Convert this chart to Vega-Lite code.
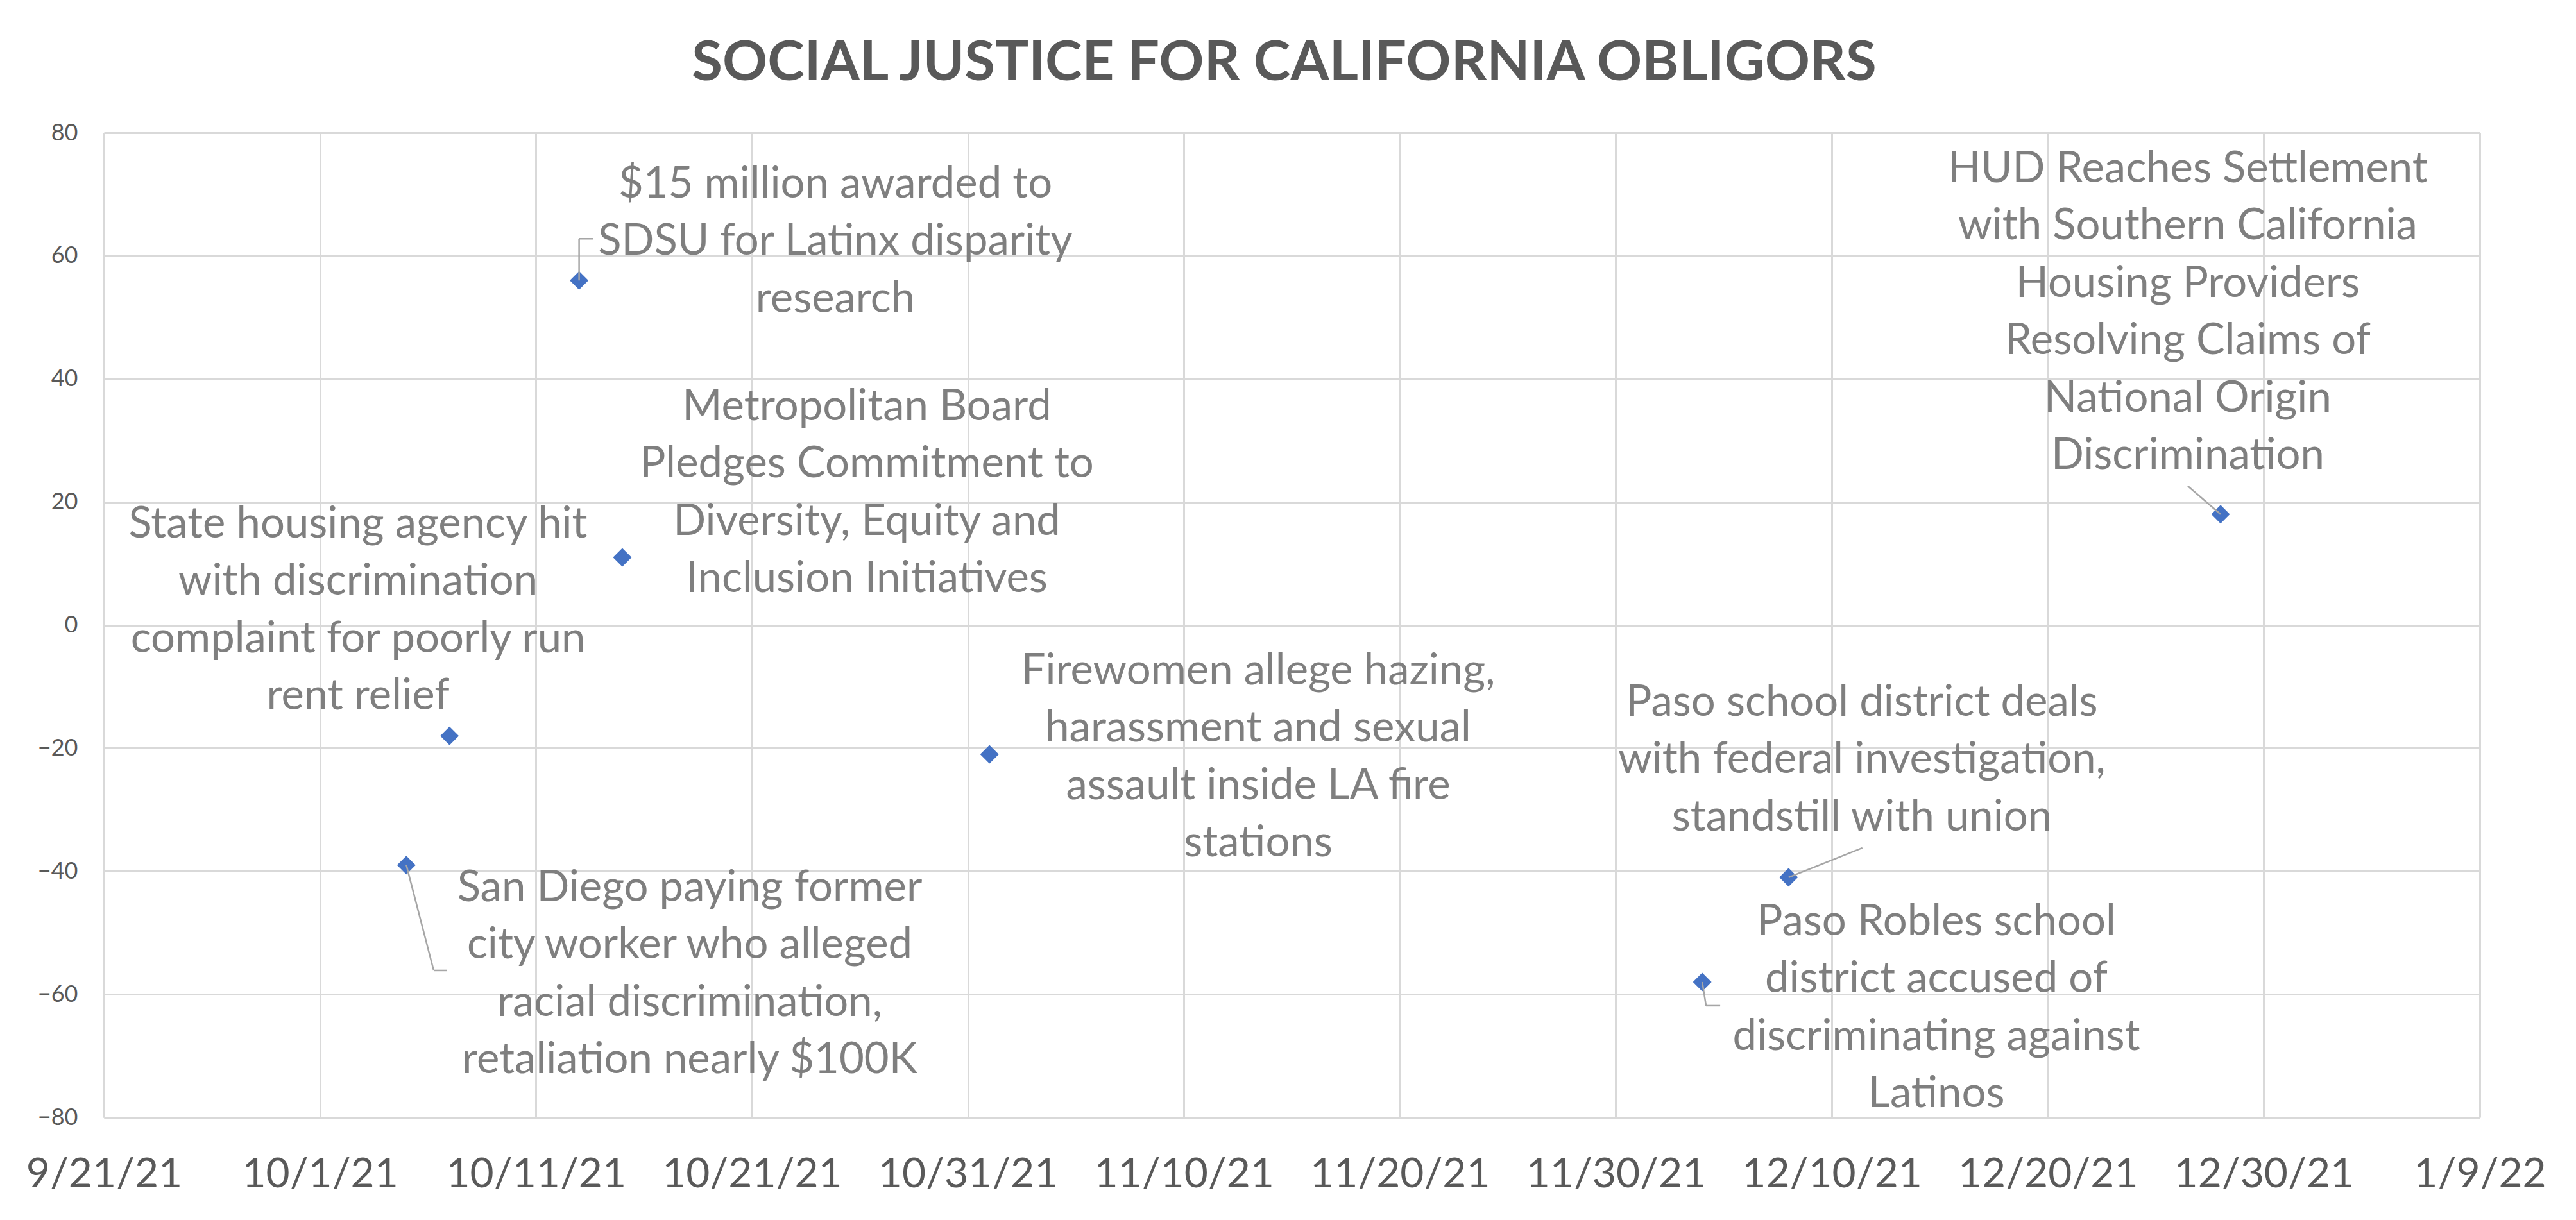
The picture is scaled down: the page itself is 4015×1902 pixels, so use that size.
{
  "$schema": "https://vega.github.io/schema/vega-lite/v6.json",
  "autosize": "none",
  "width": 3703,
  "height": 1535,
  "padding": {"left": 162, "top": 207, "right": 150, "bottom": 160},
  "background": "white",
  "title": {
    "text": "SOCIAL JUSTICE FOR CALIFORNIA OBLIGORS",
    "font": "Lato",
    "fontWeight": "bold",
    "fontSize": 87,
    "color": "#595959",
    "anchor": "middle",
    "baseline": "alphabetic",
    "offset": -23,
    "dx": -12
  },
  "data": {
    "values": [
      {"id": 1, "date": "2021-10-05T00:00", "value": -39, "label": ["San Diego paying former", "city worker who alleged", "racial discrimination,", "retaliation nearly $100K"]},
      {"id": 2, "date": "2021-10-07T00:00", "value": -18, "label": ["State housing agency hit", "with discrimination", "complaint for poorly run", "rent relief"]},
      {"id": 3, "date": "2021-10-13T00:00", "value": 56, "label": ["$15 million awarded to", "SDSU for Latinx disparity", "research"]},
      {"id": 4, "date": "2021-10-15T00:00", "value": 11, "label": ["Metropolitan Board", "Pledges Commitment to", "Diversity, Equity and", "Inclusion Initiatives"]},
      {"id": 5, "date": "2021-11-01T00:00", "value": -21, "label": ["Firewomen allege hazing,", "harassment and sexual", "assault inside LA fire", "stations"]},
      {"id": 6, "date": "2021-12-04T00:00", "value": -58, "label": ["Paso Robles school", "district accused of", "discriminating against", "Latinos"]},
      {"id": 7, "date": "2021-12-08T00:00", "value": -41, "label": ["Paso school district deals", "with federal investigation,", "standstill with union"]},
      {"id": 8, "date": "2021-12-28T00:00", "value": 18, "label": ["HUD Reaches Settlement", "with Southern California", "Housing Providers", "Resolving Claims of", "National Origin", "Discrimination"]}
    ]
  },
  "encoding": {
    "x": {
      "field": "date",
      "type": "temporal",
      "scale": {"domain": [{"year": 2021, "month": 9, "date": 21}, {"year": 2022, "month": 1, "date": 9}], "nice": false},
      "axis": {
        "title": null,
        "values": [
          {"year": 2021, "month": 9, "date": 21},
          {"year": 2021, "month": 10, "date": 1},
          {"year": 2021, "month": 10, "date": 11},
          {"year": 2021, "month": 10, "date": 21},
          {"year": 2021, "month": 10, "date": 31},
          {"year": 2021, "month": 11, "date": 10},
          {"year": 2021, "month": 11, "date": 20},
          {"year": 2021, "month": 11, "date": 30},
          {"year": 2021, "month": 12, "date": 10},
          {"year": 2021, "month": 12, "date": 20},
          {"year": 2021, "month": 12, "date": 30},
          {"year": 2022, "month": 1, "date": 9}
        ],
        "format": "%-m/%-d/%y",
        "labelFont": "Lato",
        "labelFontSize": 64,
        "labelColor": "#595959",
        "labelPadding": 57,
        "labelLimit": 1000,
        "labelOverlap": false,
        "labelFlush": false,
        "labelBaseline": "top",
        "ticks": false,
        "tickSize": 0,
        "domainColor": "#d9d9d9",
        "domainWidth": 3,
        "grid": true,
        "gridColor": "#d9d9d9",
        "gridWidth": 3
      }
    },
    "y": {
      "field": "value",
      "type": "quantitative",
      "scale": {"domain": [-80, 80], "nice": false, "zero": false},
      "axis": {
        "title": null,
        "values": [-80, -60, -40, -20, 0, 20, 40, 60, 80],
        "labelFont": "Lato",
        "labelFontSize": 36,
        "labelColor": "#595959",
        "labelPadding": 41,
        "labelLimit": 1000,
        "ticks": false,
        "tickSize": 0,
        "domainColor": "#d9d9d9",
        "domainWidth": 3,
        "grid": true,
        "gridColor": "#d9d9d9",
        "gridWidth": 3
      }
    }
  },
  "layer": [
    {"mark": {"type": "point", "shape": "diamond", "filled": true, "color": "#4472c4", "size": 840, "opacity": 1}},
    {"transform": [{"filter": "datum.id == 1"}], "mark": {"type": "rule", "x2Offset": 42.7, "y2Offset": 164.3}, "encoding": {"x2": {"field": "date"}, "y2": {"field": "value"}}},
    {"transform": [{"filter": "datum.id == 1"}], "mark": {"type": "rule", "xOffset": 42.7, "yOffset": 164.3, "x2Offset": 62.7, "y2Offset": 164.3}, "encoding": {"x2": {"field": "date"}, "y2": {"field": "value"}}},
    {"transform": [{"filter": "datum.id == 3"}], "mark": {"type": "rule", "x2Offset": 0, "y2Offset": -65}, "encoding": {"x2": {"field": "date"}, "y2": {"field": "value"}}},
    {"transform": [{"filter": "datum.id == 3"}], "mark": {"type": "rule", "xOffset": 0, "yOffset": -65, "x2Offset": 22, "y2Offset": -65}, "encoding": {"x2": {"field": "date"}, "y2": {"field": "value"}}},
    {"transform": [{"filter": "datum.id == 6"}], "mark": {"type": "rule", "x2Offset": 6, "y2Offset": 37}, "encoding": {"x2": {"field": "date"}, "y2": {"field": "value"}}},
    {"transform": [{"filter": "datum.id == 6"}], "mark": {"type": "rule", "xOffset": 6, "yOffset": 37, "x2Offset": 28, "y2Offset": 37}, "encoding": {"x2": {"field": "date"}, "y2": {"field": "value"}}},
    {"transform": [{"filter": "datum.id == 7"}], "mark": {"type": "rule", "x2Offset": 115, "y2Offset": -46}, "encoding": {"x2": {"field": "date"}, "y2": {"field": "value"}}},
    {"transform": [{"filter": "datum.id == 8"}], "mark": {"type": "rule", "x2Offset": -51, "y2Offset": -44}, "encoding": {"x2": {"field": "date"}, "y2": {"field": "value"}}},
    {"transform": [{"filter": "datum.id == 1"}], "mark": {"type": "text", "dx": 441.7, "dy": 56.3}, "encoding": {"text": {"field": "label"}}},
    {"transform": [{"filter": "datum.id == 2"}], "mark": {"type": "text", "dx": -142.6, "dy": -309.2}, "encoding": {"text": {"field": "label"}}},
    {"transform": [{"filter": "datum.id == 3"}], "mark": {"type": "text", "dx": 399.4, "dy": -129.3}, "encoding": {"text": {"field": "label"}}},
    {"transform": [{"filter": "datum.id == 4"}], "mark": {"type": "text", "dx": 381.1, "dy": -214}, "encoding": {"text": {"field": "label"}}},
    {"transform": [{"filter": "datum.id == 5"}], "mark": {"type": "text", "dx": 418.8, "dy": -109}, "encoding": {"text": {"field": "label"}}},
    {"transform": [{"filter": "datum.id == 6"}], "mark": {"type": "text", "dx": 364.9, "dy": -73}, "encoding": {"text": {"field": "label"}}},
    {"transform": [{"filter": "datum.id == 7"}], "mark": {"type": "text", "dx": 114.2, "dy": -251.9}, "encoding": {"text": {"field": "label"}}},
    {"transform": [{"filter": "datum.id == 8"}], "mark": {"type": "text", "dx": -51.1, "dy": -517.8}, "encoding": {"text": {"field": "label"}}}
  ],
  "config": {
    "view": {"stroke": null},
    "text": {"font": "Lato", "fontSize": 67, "color": "#7f7f7f", "align": "center", "baseline": "alphabetic", "lineHeight": 89.4},
    "rule": {"color": "#a6a6a6", "strokeWidth": 2.5}
  }
}
